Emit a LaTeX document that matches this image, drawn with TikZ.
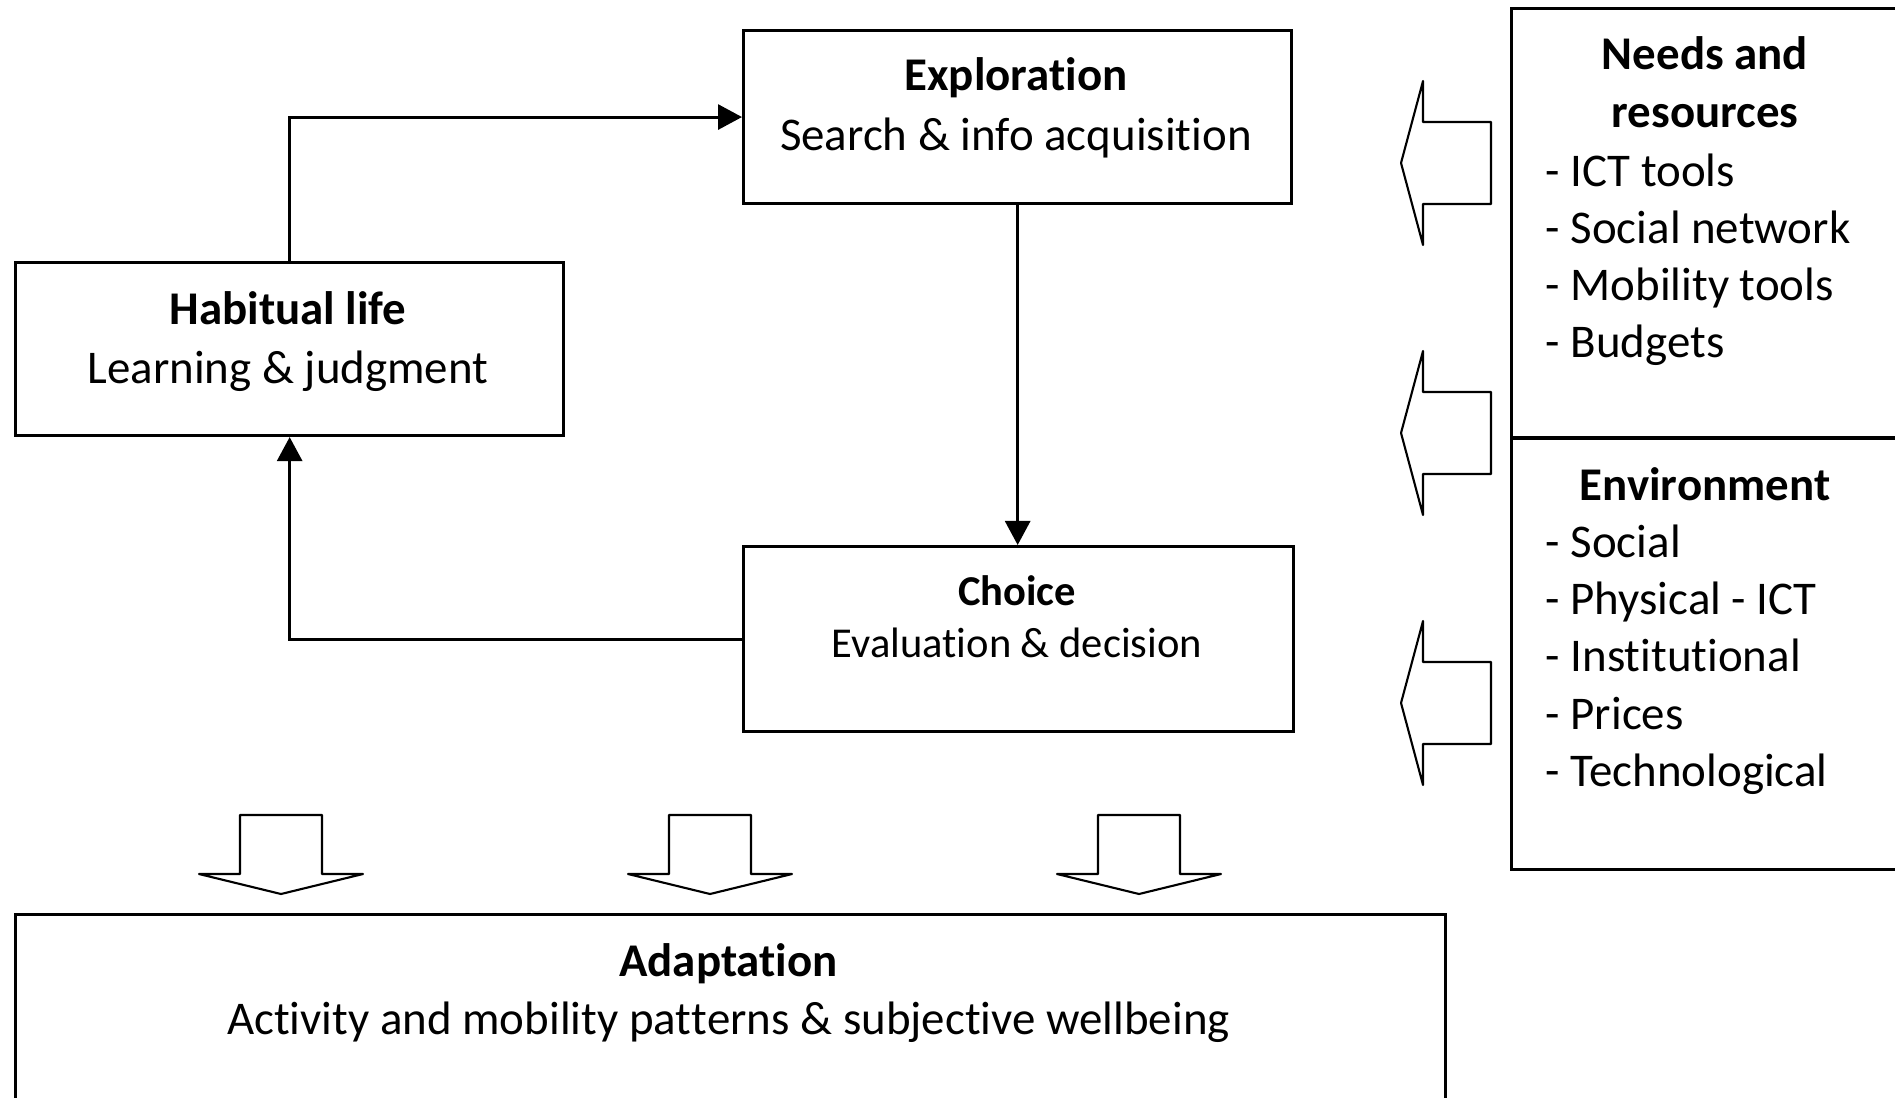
\documentclass[tikz,border=0pt]{standalone}
\usepackage{fontspec}
\setmainfont{Carlito}[Ligatures={NoCommon,NoContextual},Contextuals=NoAlternate]
\usetikzlibrary{arrows.meta}
% a zero kern keeps the font from joining t+i and t+t into one glyph
\newcommand{\zk}{\kern0pt }
\begin{document}
\begin{tikzpicture}[x=0.01cm,y=-0.01cm,
  box/.style={draw, line width=0.85pt, rectangle, inner sep=0pt, anchor=north west},
  conn/.style={line width=0.85pt, -{Triangle[length=0.24cm,width=0.25cm]}},
  txt/.style={inner sep=0pt, anchor=base, font=\fontsize{13.34}{16.3}\selectfont},
  ttl/.style={txt, font=\fontsize{13.34}{16.3}\selectfont\bfseries},
  stxt/.style={inner sep=0pt, anchor=base, font=\fontsize{12.1}{14.8}\selectfont},
  sttl/.style={stxt, font=\fontsize{12.1}{14.8}\selectfont\bfseries},
  item/.style={txt, anchor=base west},
  hollow/.style={draw, line width=0.6pt, fill=white, line join=round},
  pointleft/.pic={\path[hollow] (0,0) -- (22,-82) -- (22,-41) -- (90,-41) -- (90,41) -- (22,41) -- (22,82) -- cycle;},
  pointdown/.pic={\path[hollow] (0,0) -- (-82,-20) -- (-41,-20) -- (-41,-79) -- (41,-79) -- (41,-20) -- (82,-20) -- cycle;}
]
\useasboundingbox (0,0) rectangle (1895,1097);
\clip (0,0) rectangle (1895,1097);

% process boxes
\node[box, minimum width=5.48cm, minimum height=1.73cm] (expl) at (742,29) {};
\node[box, minimum width=5.48cm, minimum height=1.73cm] (hab) at (14,261) {};
\node[box, minimum width=5.50cm, minimum height=1.85cm] (choice) at (742,545) {};
\node[box, minimum width=14.29cm, minimum height=2.40cm] (adapt) at (14,913) {};
\node[box, minimum width=3.95cm, minimum height=4.29cm] (needs) at (1510,7) {};
\node[box, minimum width=3.95cm, minimum height=4.31cm] (env) at (1510,437) {};

% box texts
\node[ttl] (expl-t) at (1016,91) {Explorat\zk ion};
\node[txt] (expl-s) at (1016,150) {Search \& info acquisit\zk ion};
\node[ttl] (hab-t) at (288,324) {Habitual life};
\node[txt] (hab-s) at (288,383) {Learning \& judgment};
\node[sttl] (choice-t) at (1017,605) {Choice};
\node[stxt] (choice-s) at (1017,657) {Evaluat\zk ion \& decision};
\node[ttl] (adapt-t) at (728.5,976.5) {Adaptat\zk ion};
\node[txt] (adapt-s) at (728.5,1034) {Act\zk ivit\zk y and mobilit\zk y pat\zk t\zk erns \& subject\zk ive wellbeing};

\node[ttl] (needs-t1) at (1705,70) {Needs and};
\node[ttl] (needs-t2) at (1705,128) {resources};
\node[item] (n1) at (1545,186) {- ICT tools};
\node[item] (n2) at (1545,243) {- Social network};
\node[item] (n3) at (1545,300.5) {- Mobility tools};
\node[item] (n4) at (1545,357.5) {- Budgets};

\node[ttl] (env-t) at (1705,500) {Environment};
\node[item] (e1) at (1545,557) {- Social};
\node[item] (e2) at (1545,614) {- Physical - ICT};
\node[item] (e3) at (1545,671.5) {- Inst\zk it\zk ut\zk ional};
\node[item] (e4) at (1545,729) {- Prices};
\node[item] (e5) at (1545,786) {- Technological};

% connectors of the cycle
\draw[conn] (hab.north) |- (expl.west);
\draw[conn] (expl.south) -- (expl.south |- choice.north);
\draw[conn] (choice.west) -| (hab.south);

% influences from the right-hand column
\pic at (1401,163) {pointleft};
\pic at (1401,433) {pointleft};
\pic at (1401,703) {pointleft};

% outcomes feeding the adaptation box
\pic at (281,894) {pointdown};
\pic at (710,894) {pointdown};
\pic at (1139,894) {pointdown};
\end{tikzpicture}
\end{document}
